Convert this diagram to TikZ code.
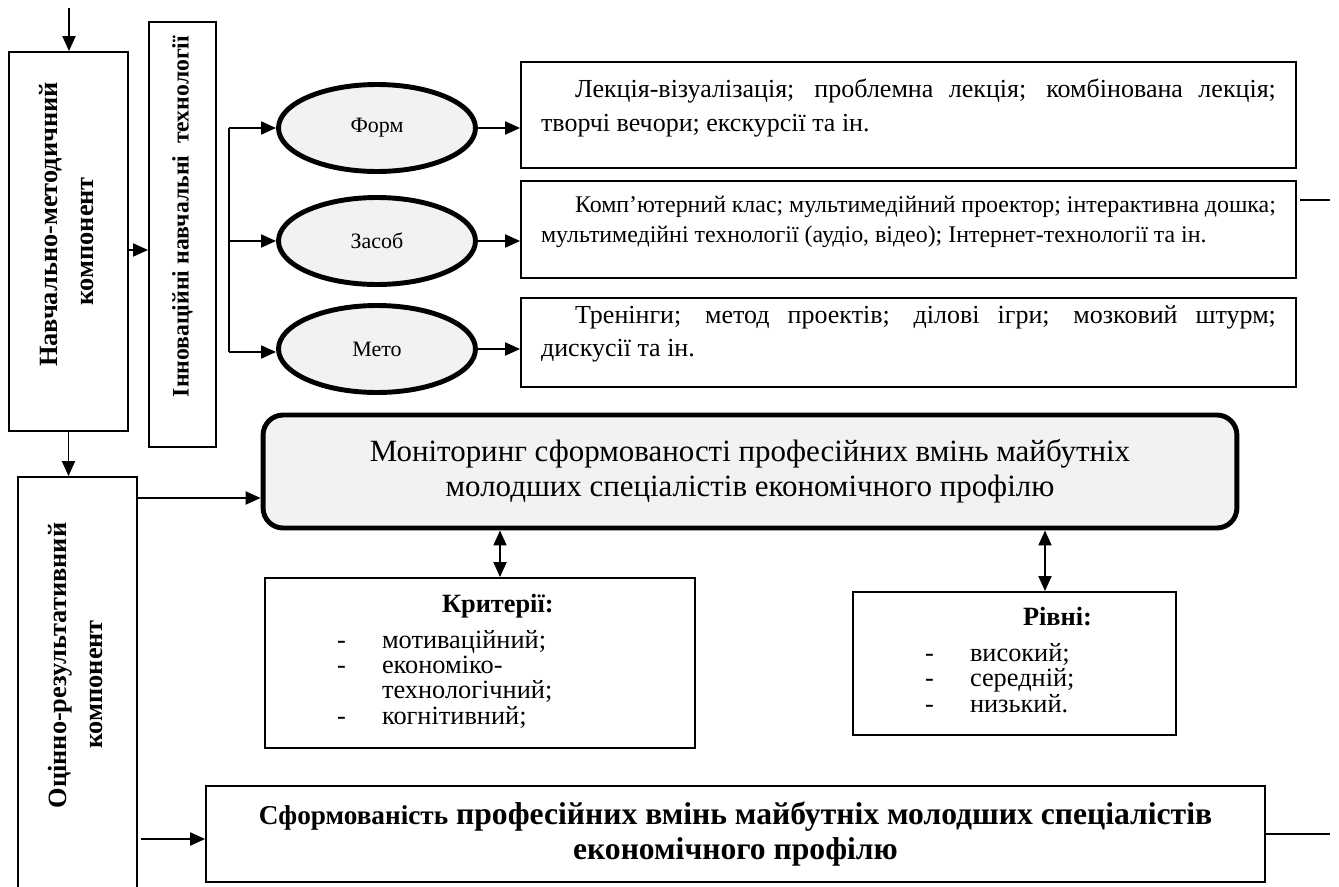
\documentclass[tikz,border=0pt]{standalone}
\usepackage{fontspec}
\setmainfont{Liberation Serif}
\usepackage{graphicx}
\usetikzlibrary{arrows.meta,shapes.geometric,positioning}
\definecolor{fillgray}{HTML}{F2F2F2}
\hyphenpenalty=10000

\begin{document}
\begin{tikzpicture}[x=0.02cm,y=-0.02cm,
  box/.style={draw,line width=1.1pt,inner sep=0pt},
  vbox/.style={box,minimum width=2.38cm,font=\fontsize{15}{20}\selectfont\bfseries},
  ell/.style={ellipse,draw,line width=2.8pt,fill=fillgray,minimum width=3.94cm,minimum height=1.74cm,font=\fontsize{12.5}{15}\selectfont},
  rbox/.style={box,minimum width=15.5cm,text width=14.7cm,inner xsep=0.4cm,align=justify},
  lbox/.style={box,inner xsep=1.44cm,align=left,font=\fontsize{15}{14.2}\selectfont},
  arr/.style={line width=1.1pt,-{Triangle[length=0.3cm,width=0.26cm]}},
  darr/.style={line width=1.1pt,{Triangle[length=0.3cm,width=0.26cm]}-{Triangle[length=0.3cm,width=0.26cm]}}]
\useasboundingbox (0,0) rectangle (1339,886);
\clip (0,0) rectangle (1339,886);

\node[vbox,minimum height=7.58cm] (nm) at (68.5,241.5) {\rotatebox{90}{\begin{tabular}{@{}c@{}}\hspace*{0.68cm}Навчально-методичний\\компонент\end{tabular}}};
\node[vbox,minimum width=1.34cm,minimum height=8.5cm,font=\fontsize{13.5}{16}\selectfont\bfseries] (inn) at (182.5,234.5) {\rotatebox{90}{\hspace*{0.72cm}Інноваційні навчальні\ \ технології}};
\node[vbox,minimum height=8.3cm] (oc) at (77.5,684.5) {\rotatebox{90}{\begin{tabular}{@{}c@{}}\hspace*{0.76cm}Оцінно-результативний\\компонент\end{tabular}}};

\node[ell] (forma) at (377,128) {Форм};
\node[ell] (zasob) at (377,241) {Засоб};
\node[ell] (meto) at (377,349) {Мето};

\node[rbox,minimum height=2.12cm,font=\fontsize{14.8}{18.8}\selectfont] (fbox) at (908.5,115) {\hspace*{0.68cm}Лекція-візуалізація; проблемна лекція; комбінована лекція;\linebreak творчі вечори; екскурсії та ін.\par\kern0.28cm};
\node[rbox,minimum height=1.94cm,font=\fontsize{13.6}{17}\selectfont] (zbox) at (908.5,229.5) {\hspace*{0.68cm}Комп’ютерний клас; мультимедійний проектор; інтерактивна дошка;\linebreak мультимедійні технології (аудіо, відео); Інтернет-технології та ін.\par\kern0.32cm};
\node[rbox,minimum height=1.78cm,font=\fontsize{14.8}{18.8}\selectfont] (mbox) at (908.5,342.5) {\hspace*{0.68cm}Тренінги; метод проектів; ділові ігри; мозковий штурм;\linebreak дискусії та ін.\par\kern0.36cm};

\node[box,rounded corners=0.4cm,line width=2.8pt,fill=fillgray,minimum width=19.48cm,minimum height=2.26cm,align=center,font=\fontsize{17.6}{19.9}\selectfont] (mon) at (750,471.5) {Моніторинг сформованості професійних вмінь майбутніх\\молодших спеціалістів економічного профілю};

\node[lbox,text width=5.72cm,minimum height=3.4cm] (kr) at (480,663) {\begin{tabular}{@{}p{0.9cm}@{}l@{}}
 & \hspace{1.2cm}\textbf{Критерії:}\\[6pt]
-& мотиваційний;\\
-& економіко-\\
 & технологічний;\\
-& когнітивний;
\end{tabular}};
\node[lbox,text width=3.58cm,minimum height=2.86cm] (lv) at (1014.5,663.5) {\begin{tabular}{@{}p{0.9cm}@{}l@{}}
 & \hspace{1.06cm}\textbf{Рівні:}\\[6pt]
-& високий;\\
-& середній;\\
-& низький.
\end{tabular}};

\node[box,minimum width=21.18cm,minimum height=1.92cm,align=center,font=\fontsize{18}{20}\selectfont\bfseries] (sf) at (735.5,834) {{\fontsize{15.5}{20}\selectfont Сформованість} професійних вмінь майбутніх молодших спеціалістів\\економічного профілю};

\coordinate (t0) at (69,8);
\draw[arr] (t0) -- (t0 |- nm.north);
\coordinate (n1) at (128,250);
\draw[arr] (n1) -- (n1 -| inn.west);
\draw[arr] (nm.south) -- (nm.south |- oc.north);

\coordinate (b1) at (229,128);
\coordinate (b2) at (229,241);
\coordinate (b3) at (229,352);
\draw[line width=1.1pt] (b1) -- (b3);
\draw[arr] (b1) -- (forma);
\draw[arr] (b2) -- (zasob);
\draw[arr] (b3) -- (b3 -| meto.west);
\draw[arr] (forma.east) -- (forma.east -| fbox.west);
\draw[arr] (zasob.east) -- (zasob.east -| zbox.west);
\draw[arr] (meto.east) -- (meto.east -| mbox.west);

\coordinate (m1) at (137,498);
\draw[arr] (m1) -- (m1 -| mon.west);
\coordinate (k1) at (500,0);
\coordinate (k2) at (1045,0);
\draw[darr] (k1 |- mon.south) -- (k1 |- kr.north);
\draw[darr] (k2 |- mon.south) -- (k2 |- lv.north);

\coordinate (s1) at (141,839);
\draw[arr] (s1) -- (s1 -| sf.west);
\coordinate (e1) at (1300,200);
\coordinate (e2) at (1330,200);
\draw[line width=1.1pt] (e1) -- (e2);
\draw[line width=1.1pt] (sf.east) -- (sf.east -| e2);
\end{tikzpicture}
\end{document}
